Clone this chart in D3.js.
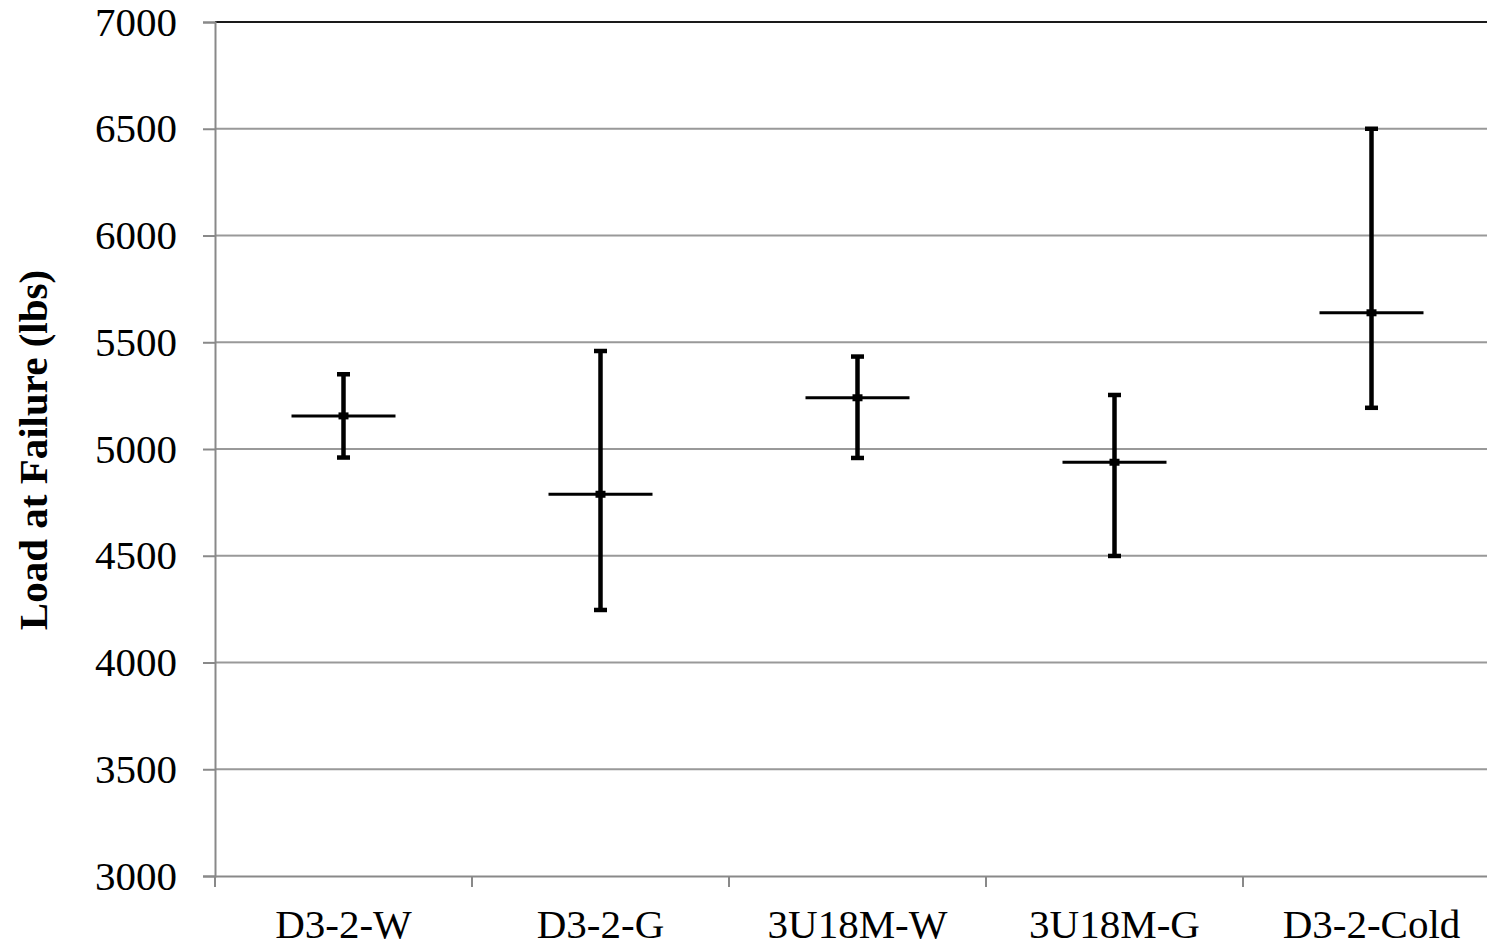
<!DOCTYPE html>
<html>
<head>
<meta charset="utf-8">
<script src="https://cdn.jsdelivr.net/npm/d3@7"></script>
<style>
  body { margin: 0; background: #fff; }
  svg { display: block; }
  svg text { font-family: "Liberation Serif", "Times New Roman", serif; }
</style>
</head>
<body>
<script>
// specimen groups
var categories = ['D3-2-W', 'D3-2-G', '3U18M-W', '3U18M-G', 'D3-2-Cold'];
// average load at failure (lbs)
var means = [5155, 4788, 5240, 4938, 5638];
// error bar ends
var highs = [5350, 5459, 5433, 5253, 6500];
var lows  = [4960, 4246, 4958, 4499, 5193];
var yTicks = [3000, 3500, 4000, 4500, 5000, 5500, 6000, 6500, 7000];

var width = 1487,
    height = 945;
var padLeft = 215, padTop = 22, plotBottom = 876, plotRight = 1500;

var svg = d3.select('body').append('svg')
    .attr('width', width)
    .attr('height', height);

var x = d3.scaleBand()
    .domain(categories)
    .range([padLeft, plotRight]);

var y = d3.scaleLinear()
    .domain([3000, 7000])
    .range([plotBottom, padTop]);

/* gridlines */
svg.append('g').selectAll('line').data(yTicks.filter(d => d > 3000)).enter().append('line')
    .attr('x1', padLeft).attr('x2', plotRight)
    .attr('y1', d => y(d)).attr('y2', d => y(d))
    .attr('stroke', d => d == 7000 ? '#1a1a1a' : '#999')
    .attr('stroke-width', 2);

/* y axis */
var yAxis = svg.append('g')
    .attr('transform', 'translate(' + padLeft + ',0)')
    .call(d3.axisLeft(y).tickValues(yTicks).tickSize(12).tickPadding(26).tickFormat(d3.format('d')));
yAxis.select('.domain').attr('stroke', '#898989').attr('stroke-width', 2);
yAxis.selectAll('.tick line').attr('stroke', '#898989').attr('stroke-width', 2);
yAxis.selectAll('text').style('font-size', '41px').attr('fill', '#000');

/* x axis, ticks on band boundaries */
var xAxis = svg.append('g')
    .attr('transform', 'translate(0,' + plotBottom + ')')
    .call(d3.axisBottom(x).tickSize(0).tickPadding(33));
xAxis.select('.domain').attr('stroke', '#898989').attr('stroke-width', 2);
xAxis.selectAll('text').style('font-size', '41px').attr('fill', '#000');
xAxis.selectAll('.bound').data(categories).enter().append('line')
    .attr('class', 'bound')
    .attr('x1', d => x(d)).attr('x2', d => x(d))
    .attr('y1', 0).attr('y2', 11)
    .attr('stroke', '#898989').attr('stroke-width', 2);

/* y title */
svg.append('text')
    .attr('transform', 'translate(47,' + 450 + ') rotate(-90)')
    .attr('text-anchor', 'middle')
    .style('font-size', '41px')
    .style('font-weight', 'bold')
    .text('Load at Failure (lbs)');

/* error bars */
var data = categories.map((c, i) => ({cat: c, mean: means[i], hi: highs[i], lo: lows[i]}));
var cx = d => x(d.cat) + x.bandwidth() / 2;

var marks = svg.append('g').selectAll('g').data(data).enter().append('g');

marks.append('line')
    .attr('x1', cx).attr('x2', cx)
    .attr('y1', d => y(d.hi)).attr('y2', d => y(d.lo))
    .attr('stroke', '#000').attr('stroke-width', 4.5);

marks.selectAll('.cap').data(d => [[d, d.hi], [d, d.lo]]).enter().append('line')
    .attr('class', 'cap')
    .attr('x1', d => cx(d[0]) - 6.5).attr('x2', d => cx(d[0]) + 6.5)
    .attr('y1', d => y(d[1])).attr('y2', d => y(d[1]))
    .attr('stroke', '#000').attr('stroke-width', 4.5);

marks.append('line')
    .attr('x1', d => cx(d) - 52).attr('x2', d => cx(d) + 52)
    .attr('y1', d => y(d.mean)).attr('y2', d => y(d.mean))
    .attr('stroke', '#000').attr('stroke-width', 3);

marks.append('rect')
    .attr('x', d => cx(d) - 5).attr('y', d => y(d.mean) - 3.5)
    .attr('width', 10).attr('height', 7)
    .attr('fill', '#000');
</script>
</body>
</html>
